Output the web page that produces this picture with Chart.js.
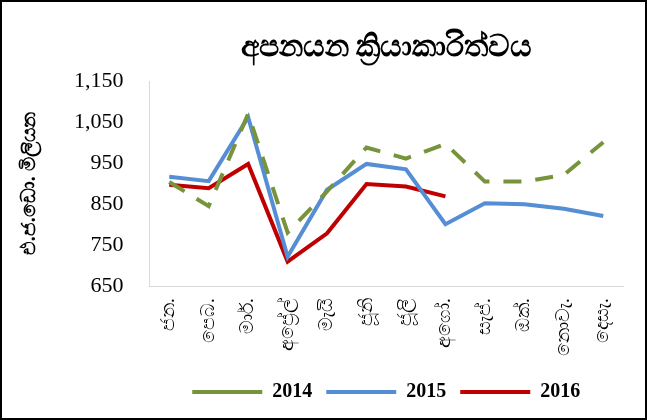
<!DOCTYPE html>
<html>
<head>
<meta charset="utf-8">
<script src="https://cdn.jsdelivr.net/npm/chart.js@4"></script>
<style>
  body { margin: 0; background: #fff; }
  #box { width: 647px; height: 420px; box-sizing: border-box; border: 2px solid #000; position: relative; }
</style>
</head>
<body>
<div id="box"><canvas id="exportChart"></canvas></div>
<script>
// Mesečne oznake in vrednosti (odčitane s slike)
const months = ['ජන.', 'පෙබ.', 'මාර්.', 'අප්‍රේල්', 'මැයි', 'ජූනි', 'ජූලි', 'අගෝ.', 'සැප්.', 'ඔක්.', 'නොවැ.', 'දෙසැ.'];
const exports2014 = [904, 845, 1070, 781, 881, 988, 961, 997, 905, 905, 921, 1001];
const exports2015 = [917, 906, 1062, 722, 885, 948, 935, 801, 852, 850, 839, 821];
const exports2016 = [897, 889, 948, 710, 779, 899, 893, 869];
const yTicks = { min: 650, max: 1150, step: 100 };

const serif = "'Liberation Serif', 'Times New Roman', serif";

const ctx = document.getElementById('exportChart').getContext('2d');
const exportChart = new Chart(ctx, {
    type: 'line',
    data: {
        labels: months,
        datasets: [{
            label: '2014',
            data: exports2014,
            borderColor: '#77933c',
            backgroundColor: '#77933c',
            borderWidth: 4,
            borderDash: [18, 14],
            pointRadius: 0,
            tension: 0
        }, {
            label: '2015',
            data: exports2015,
            borderColor: '#558ed5',
            backgroundColor: '#558ed5',
            borderWidth: 4,
            pointRadius: 0,
            tension: 0
        }, {
            label: '2016',
            data: exports2016,
            borderColor: '#c00000',
            backgroundColor: '#c00000',
            borderWidth: 4,
            pointRadius: 0,
            tension: 0
        }]
    },
    options: {
        responsive: true,
        maintainAspectRatio: false,
        animation: false,
        layout: { padding: { left: 12, right: 22, top: 10, bottom: 6 } },
        plugins: {
            title: {
                display: true,
                fullSize: false,
                text: 'අපනයන ක්‍රියාකාරිත්වය',
                color: '#000',
                font: { size: 30, family: serif },
                padding: { top: 18, bottom: 15 }
            },
            legend: {
                position: 'bottom',
                fullSize: false,
                labels: {
                    usePointStyle: true,
                    pointStyle: 'line',
                    pointStyleWidth: 70,
                    color: '#000',
                    font: { size: 20, weight: 'bold', family: serif },
                    padding: 14
                }
            },
            tooltip: { enabled: false }
        },
        scales: {
            x: {
                offset: true,
                grid: { display: false, drawTicks: false },
                border: { display: true, color: '#d9d9d9', width: 1 },
                ticks: {
                    color: '#000',
                    maxRotation: 90,
                    minRotation: 90,
                    padding: 12,
                    font: { size: 19, family: serif }
                }
            },
            y: {
                min: yTicks.min,
                max: yTicks.max,
                grid: { display: false, drawTicks: false },
                border: { display: true, color: '#d9d9d9', width: 1 },
                ticks: {
                    stepSize: yTicks.step,
                    color: '#000',
                    padding: 26,
                    font: { size: 22, family: serif }
                },
                title: {
                    display: true,
                    text: 'එ.ජ.ඩො. මිලියන',
                    color: '#000',
                    font: { size: 20, weight: 'bold', family: serif },
                    padding: { bottom: 6 }
                }
            }
        }
    }
});
</script>
</body>
</html>
